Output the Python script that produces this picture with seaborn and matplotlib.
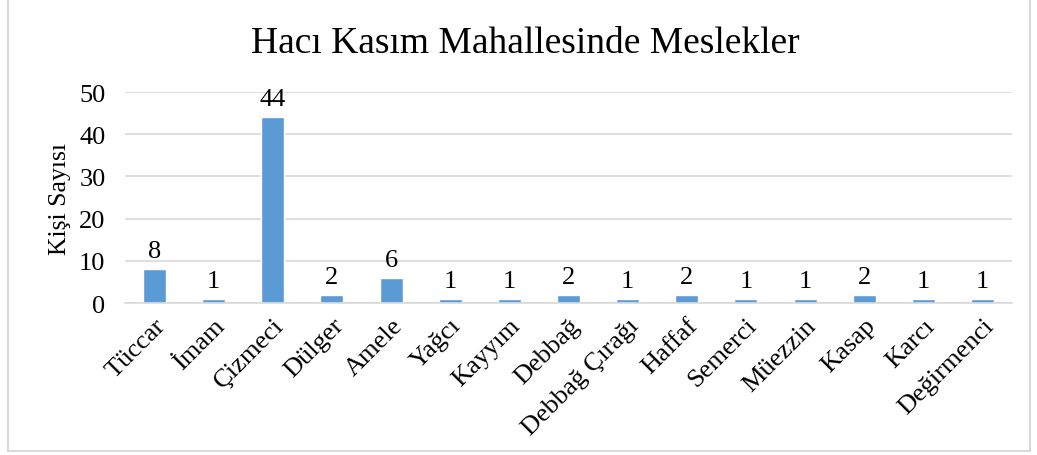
import matplotlib
matplotlib.use("Agg")
import matplotlib.pyplot as plt
import seaborn as sns
import pandas as pd
from matplotlib.lines import Line2D

meslekler = ["Tüccar", "İmam", "Çizmeci", "Dülger", "Amele", "Yağcı", "Kayyım",
             "Debbağ", "Debbağ Çırağı", "Haffaf", "Semerci", "Müezzin", "Kasap",
             "Karcı", "Değirmenci"]
kisi_sayisi = [8, 1, 44, 2, 6, 1, 1, 2, 1, 2, 1, 1, 2, 1, 1]
y_ticks = [0, 10, 20, 30, 40, 50]

sns.set_style("white")
plt.rcParams['font.family'] = ['Liberation Serif', 'DejaVu Serif']
plt.rcParams['text.color'] = 'black'

df = pd.DataFrame({'meslek': meslekler, 'sayi': kisi_sayisi})

fig = plt.figure(figsize=(10.37, 4.56), dpi=100)
ax = fig.add_axes([0.1205, 0.3333, 0.8555, 0.4627])

sns.barplot(data=df, x='meslek', y='sayi', color='#5B9BD5', width=0.39,
            saturation=1, ax=ax)

ax.set_ylim(0, 50)
ax.set_xlim(-0.5, len(meslekler) - 0.5)
ax.set_yticks(y_ticks)
ax.yaxis.grid(True, color='#D9D9D9', linewidth=1.2)
ax.set_axisbelow(True)
for s in ['top', 'right', 'left']:
    ax.spines[s].set_visible(False)
ax.spines['bottom'].set_color('#D9D9D9')
ax.spines['bottom'].set_linewidth(1.2)
ax.tick_params(axis='both', length=0, labelsize=19, colors='black')
ax.tick_params(axis='y', pad=14)
plt.setp(ax.get_xticklabels(), rotation=45, ha='right', rotation_mode='anchor')
ax.tick_params(axis='x', pad=8)

ax.bar_label(ax.containers[0], fontsize=19, padding=5, color='black')

ax.set_xlabel('')
ax.set_ylabel('Kişi Sayısı', fontsize=18.5, labelpad=6, color='black')
fig.text(0.507, 0.905, 'Hacı Kasım Mahallesinde Meslekler', ha='center',
         va='center', fontsize=27, color='black')

# dış çerçeve
c = '#D9D9D9'
fig.add_artist(Line2D([8/1037, 8/1037], [0.009, 1], color=c, lw=1.5))
fig.add_artist(Line2D([1030/1037, 1030/1037], [0.009, 1], color=c, lw=1.5))
fig.add_artist(Line2D([8/1037, 1030/1037], [0.009, 0.009], color=c, lw=1.5))

fig.savefig('out.png', dpi=100)
